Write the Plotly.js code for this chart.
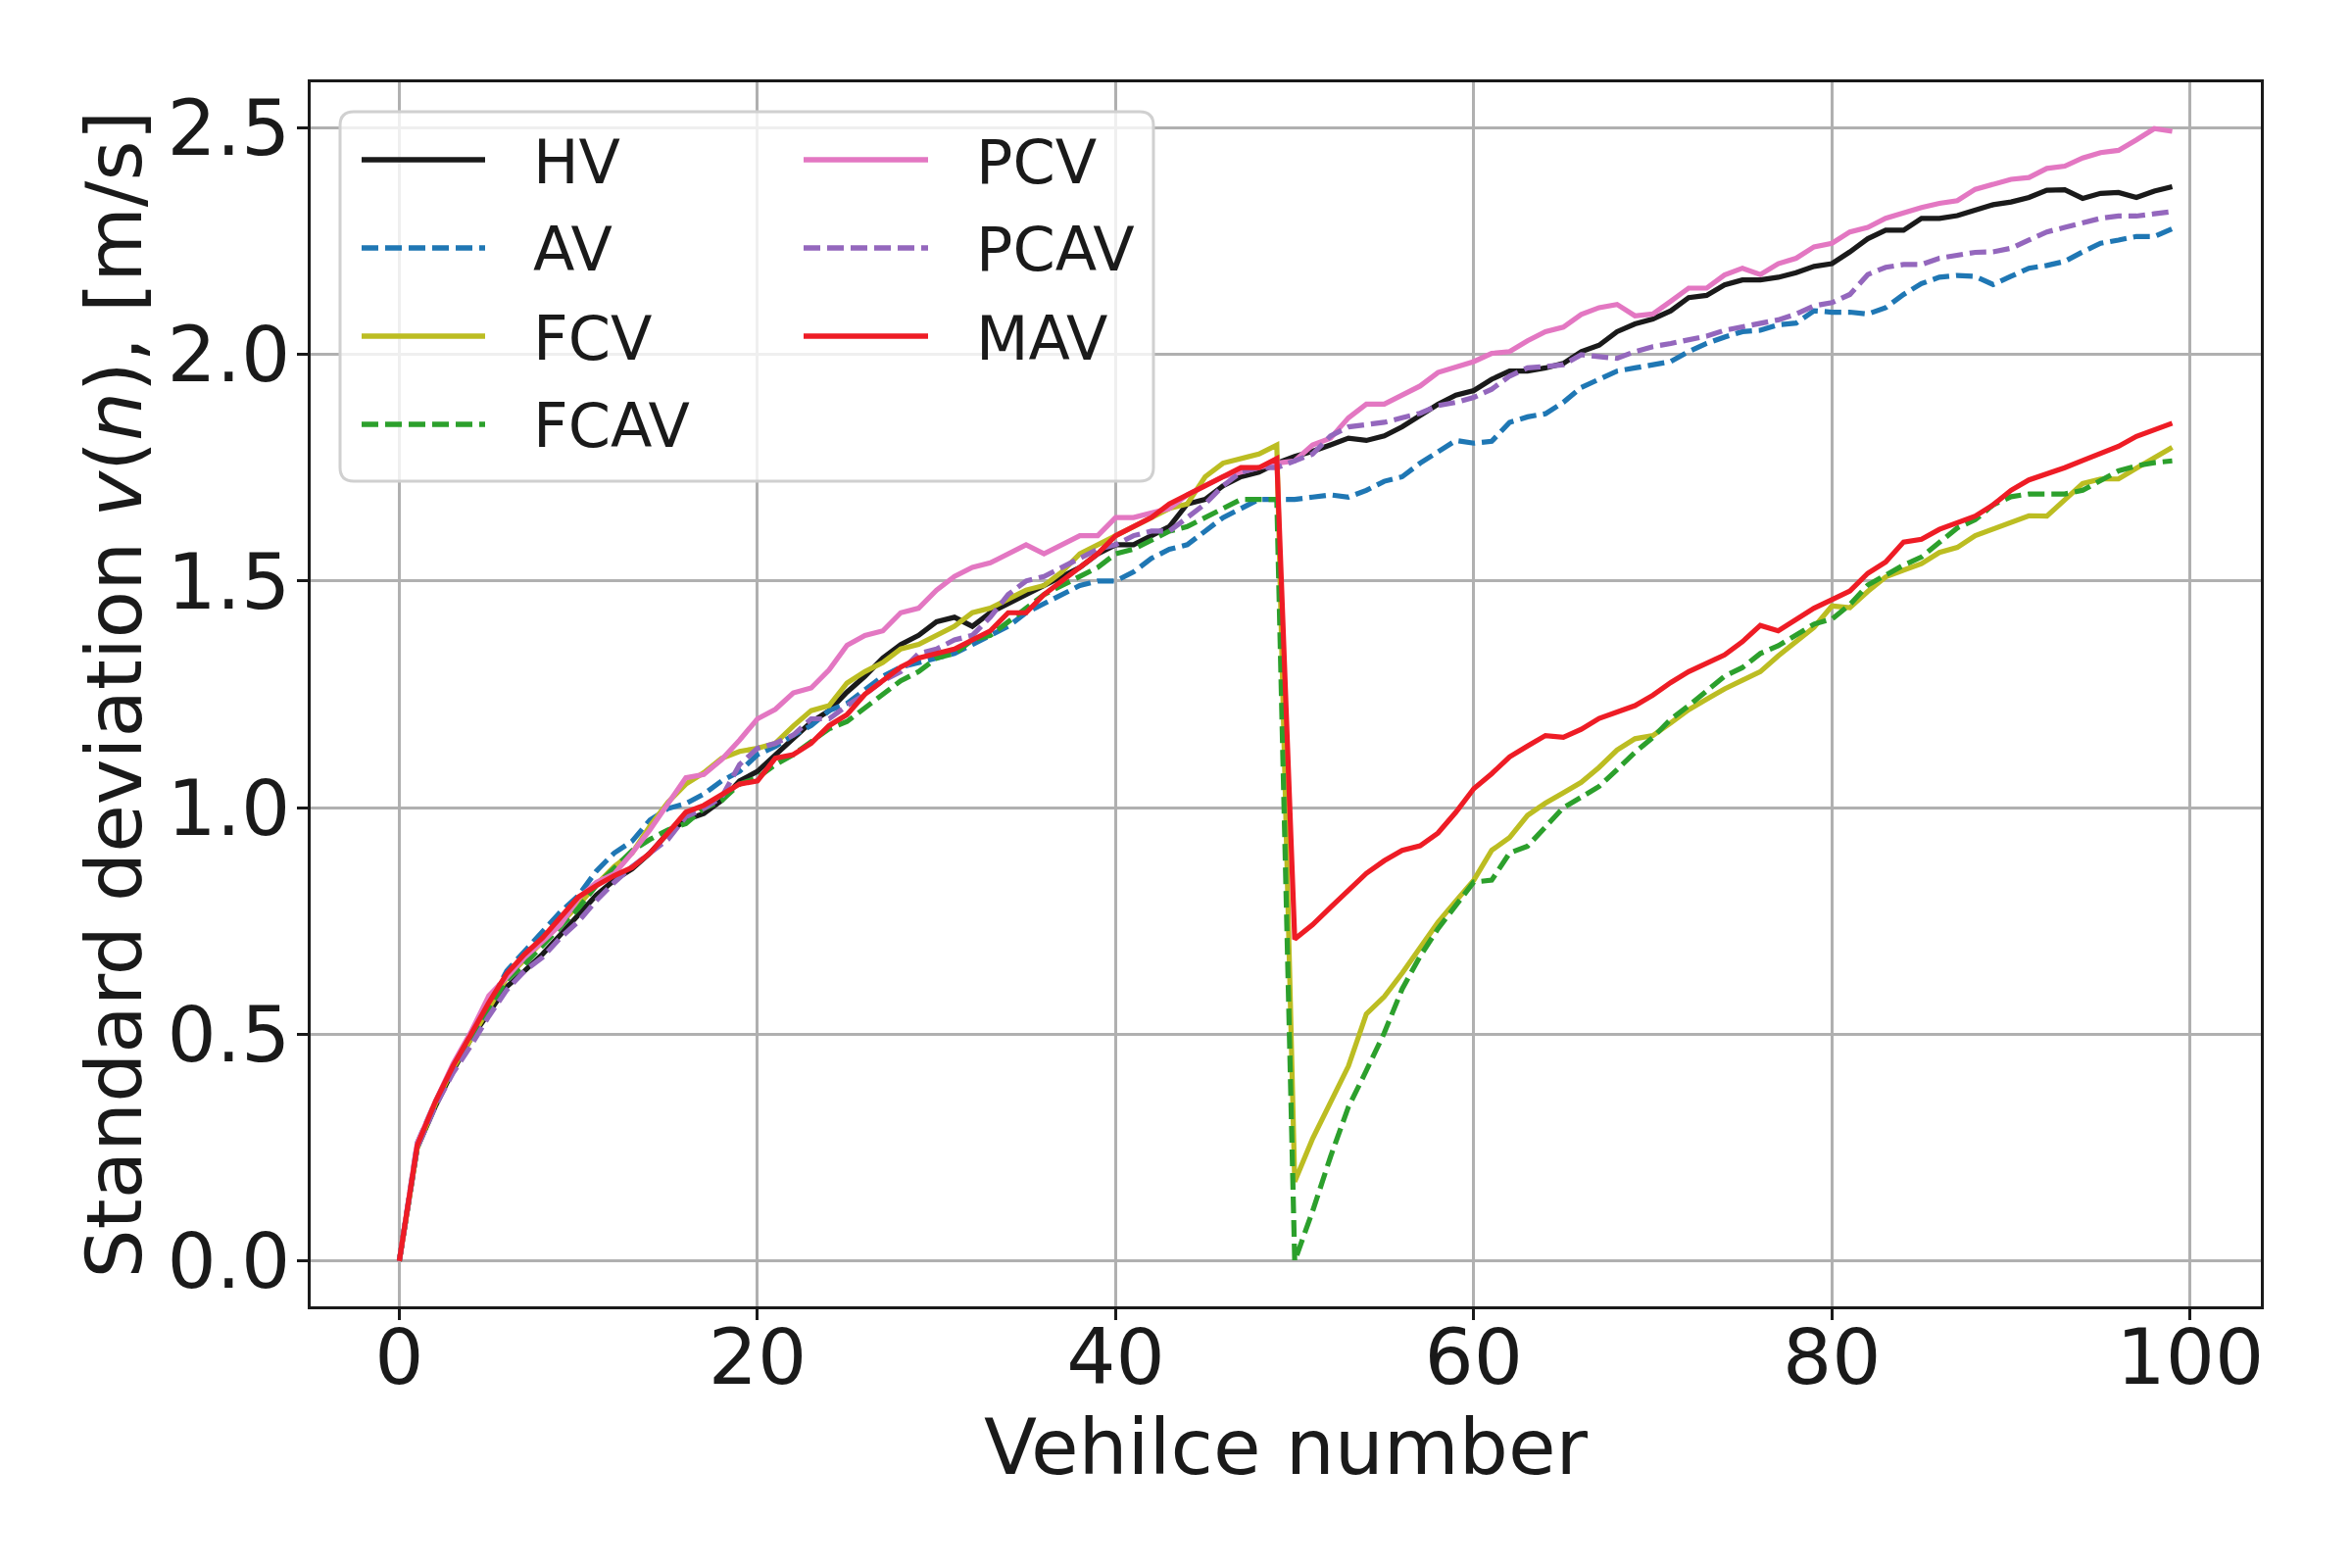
<!DOCTYPE html>
<html>
<head>
<meta charset="utf-8">
<script src="https://cdn.plot.ly/plotly-3.0.1.min.js"></script>
<style>
  html, body { margin: 0; padding: 0; background: #fff; }
  #chart { width: 2400px; height: 1600px; }
</style>
</head>
<body>
<div id="chart"></div>
<script>
// Standard deviation of speed along the platoon -------------------------------
const vehicle = [
  0, 1, 2, 3, 4, 5, 6, 7, 8, 9, 10, 11, 12, 13, 14, 15, 16, 17, 18, 19,
  20, 21, 22, 23, 24, 25, 26, 27, 28, 29, 30, 31, 32, 33, 34, 35, 36, 37, 38, 39,
  40, 41, 42, 43, 44, 45, 46, 47, 48, 49, 50, 51, 52, 53, 54, 55, 56, 57, 58, 59,
  60, 61, 62, 63, 64, 65, 66, 67, 68, 69, 70, 71, 72, 73, 74, 75, 76, 77, 78, 79,
  80, 81, 82, 83, 84, 85, 86, 87, 88, 89, 90, 91, 92, 93, 94, 95, 96, 97, 98, 99
];

const hv = [
  0, 0.25, 0.34, 0.42, 0.49, 0.55, 0.605, 0.64, 0.677, 0.72,
  0.763, 0.807, 0.84, 0.865, 0.90, 0.944, 0.973, 0.987, 1.016, 1.059,
  1.08, 1.117, 1.153, 1.189, 1.214, 1.255, 1.29, 1.33, 1.36, 1.38,
  1.41, 1.42, 1.40, 1.43, 1.45, 1.47, 1.49, 1.51, 1.53, 1.56,
  1.58, 1.58, 1.60, 1.62, 1.67, 1.68, 1.71, 1.73, 1.74, 1.76,
  1.775, 1.786, 1.80, 1.815, 1.81, 1.82, 1.84, 1.865, 1.89, 1.91,
  1.92, 1.945, 1.963, 1.963, 1.97, 1.98, 2.006, 2.02, 2.05, 2.067,
  2.078, 2.096, 2.125, 2.13, 2.153, 2.164, 2.164, 2.17, 2.18, 2.194,
  2.20, 2.226, 2.255, 2.274, 2.274, 2.30, 2.30, 2.306, 2.317, 2.33,
  2.336, 2.346, 2.362, 2.363, 2.344, 2.355, 2.357, 2.346, 2.36, 2.37
];
const av = [
  0, 0.26, 0.35, 0.43, 0.50, 0.565, 0.64, 0.684, 0.727, 0.77,
  0.806, 0.86, 0.90, 0.926, 0.973, 0.998, 1.009, 1.03, 1.059, 1.08,
  1.117, 1.135, 1.16, 1.181, 1.214, 1.23, 1.26, 1.29, 1.31, 1.32,
  1.33, 1.34, 1.36, 1.38, 1.40, 1.43, 1.45, 1.47, 1.49, 1.50,
  1.50, 1.52, 1.55, 1.57, 1.58, 1.61, 1.64, 1.66, 1.68, 1.68,
  1.68, 1.685, 1.69, 1.685, 1.70, 1.72, 1.73, 1.76, 1.786, 1.81,
  1.804, 1.808, 1.85, 1.862, 1.869, 1.894, 1.927, 1.945, 1.963, 1.97,
  1.977, 1.984, 2.006, 2.024, 2.038, 2.05, 2.053, 2.065, 2.069, 2.096,
  2.093, 2.093, 2.089, 2.103, 2.132, 2.156, 2.17, 2.174, 2.172, 2.154,
  2.172, 2.19, 2.196, 2.205, 2.226, 2.245, 2.252, 2.26, 2.26, 2.277
];
const fcv = [
  0, 0.25, 0.345, 0.425, 0.49, 0.56, 0.625, 0.665, 0.705, 0.745,
  0.785, 0.83, 0.87, 0.90, 0.96, 1.012, 1.052, 1.077, 1.109, 1.124,
  1.131, 1.142, 1.18, 1.214, 1.225, 1.275, 1.30, 1.32, 1.35, 1.36,
  1.38, 1.40, 1.43, 1.44, 1.46, 1.48, 1.49, 1.52, 1.56, 1.58,
  1.60, 1.62, 1.64, 1.66, 1.67, 1.73, 1.76, 1.77, 1.78, 1.80,
  0.175, 0.27, 0.35, 0.43, 0.545, 0.583, 0.635, 0.69, 0.747, 0.794,
  0.84, 0.906, 0.934, 0.983, 1.01, 1.033, 1.056, 1.089, 1.127, 1.152,
  1.159, 1.187, 1.216, 1.239, 1.262, 1.281, 1.30, 1.335, 1.365, 1.398,
  1.445, 1.441, 1.477, 1.509, 1.524, 1.538, 1.563, 1.574, 1.60, 1.614,
  1.628, 1.644, 1.643, 1.678, 1.715, 1.725, 1.725, 1.749, 1.772, 1.795
];
const fcav = [
  0, 0.25, 0.345, 0.425, 0.495, 0.56, 0.62, 0.655, 0.695, 0.735,
  0.778, 0.828, 0.868, 0.905, 0.93, 0.951, 0.965, 0.998, 1.016, 1.052,
  1.066, 1.095, 1.117, 1.145, 1.174, 1.19, 1.22, 1.25, 1.28, 1.30,
  1.33, 1.34, 1.37, 1.38, 1.41, 1.44, 1.47, 1.49, 1.51, 1.53,
  1.56, 1.57, 1.59, 1.61, 1.62, 1.64, 1.66, 1.68, 1.68, 1.68,
  0.0, 0.11, 0.23, 0.34, 0.42, 0.503, 0.60, 0.672, 0.733, 0.784,
  0.836, 0.84, 0.90, 0.915, 0.958, 1.0, 1.023, 1.047, 1.084, 1.122,
  1.155, 1.195, 1.225, 1.258, 1.29, 1.309, 1.34, 1.357, 1.38, 1.405,
  1.416, 1.448, 1.491, 1.514, 1.535, 1.553, 1.585, 1.617, 1.635, 1.668,
  1.686, 1.692, 1.692, 1.692, 1.70, 1.722, 1.743, 1.754, 1.761, 1.765
];
const pcv = [
  0, 0.26, 0.35, 0.435, 0.505, 0.585, 0.626, 0.67, 0.705, 0.742,
  0.80, 0.835, 0.854, 0.90, 0.951, 1.009, 1.066, 1.073, 1.106, 1.149,
  1.196, 1.217, 1.253, 1.264, 1.304, 1.358, 1.38, 1.39, 1.43, 1.44,
  1.48, 1.51, 1.53, 1.54, 1.56, 1.58, 1.56, 1.58, 1.60, 1.60,
  1.64, 1.64, 1.65, 1.66, 1.69, 1.71, 1.73, 1.74, 1.75, 1.76,
  1.765, 1.80, 1.815, 1.86, 1.89, 1.89, 1.91, 1.93, 1.96, 1.973,
  1.984, 2.002, 2.006, 2.03, 2.05, 2.06, 2.088, 2.103, 2.11, 2.085,
  2.089, 2.117, 2.146, 2.146, 2.175, 2.19, 2.176, 2.20, 2.212, 2.237,
  2.245, 2.27, 2.28, 2.30, 2.313, 2.324, 2.333, 2.339, 2.364, 2.375,
  2.386, 2.39, 2.41, 2.415, 2.433, 2.445, 2.45, 2.473, 2.498, 2.492
];
const pcav = [
  0, 0.25, 0.34, 0.415, 0.475, 0.54, 0.598, 0.64, 0.67, 0.713,
  0.749, 0.795, 0.835, 0.87, 0.90, 0.93, 0.98, 0.998, 1.023, 1.095,
  1.131, 1.142, 1.16, 1.196, 1.196, 1.225, 1.25, 1.28, 1.30, 1.34,
  1.35, 1.37, 1.38, 1.42, 1.47, 1.50, 1.51, 1.53, 1.55, 1.57,
  1.58, 1.60, 1.61, 1.61, 1.64, 1.67, 1.71, 1.74, 1.75, 1.75,
  1.765, 1.78, 1.82, 1.84, 1.845, 1.85, 1.86, 1.87, 1.887, 1.894,
  1.905, 1.923, 1.952, 1.97, 1.973, 1.977, 1.999, 1.995, 1.991, 2.006,
  2.017, 2.024, 2.031, 2.04, 2.053, 2.06, 2.067, 2.076, 2.089, 2.107,
  2.114, 2.132, 2.176, 2.192, 2.198, 2.198, 2.212, 2.219, 2.225, 2.226,
  2.234, 2.252, 2.27, 2.28, 2.29, 2.30, 2.305, 2.305, 2.31, 2.315
];
const mav = [
  0, 0.255, 0.35, 0.43, 0.50, 0.57, 0.634, 0.677, 0.713, 0.756,
  0.803, 0.828, 0.85, 0.868, 0.90, 0.944, 0.99, 1.005, 1.027, 1.052,
  1.059, 1.109, 1.117, 1.142, 1.181, 1.205, 1.25, 1.28, 1.31, 1.33,
  1.34, 1.35, 1.37, 1.39, 1.43, 1.43, 1.47, 1.50, 1.53, 1.56,
  1.60, 1.62, 1.64, 1.67, 1.69, 1.71, 1.73, 1.75, 1.75, 1.77,
  0.71, 0.742, 0.78, 0.817, 0.855, 0.883, 0.906, 0.916, 0.944, 0.99,
  1.042, 1.075, 1.112, 1.136, 1.159, 1.155, 1.173, 1.197, 1.211, 1.225,
  1.248, 1.276, 1.30, 1.319, 1.337, 1.366, 1.402, 1.39, 1.416, 1.44,
  1.459, 1.478, 1.517, 1.542, 1.586, 1.592, 1.614, 1.628, 1.643, 1.668,
  1.70, 1.723, 1.736, 1.75, 1.766, 1.783, 1.797, 1.819, 1.833, 1.848
];

const names  = ['HV', 'AV', 'FCV', 'FCAV', 'PCV', 'PCAV', 'MAV'];
const values = [hv, av, fcv, fcav, pcv, pcav, mav];
const colors = ['#1a1a1a', '#1f77b4', '#bcbd22', '#2ca02c', '#e377c2', '#9467bd', '#ee1c25'];
const dashed = [false, true, false, true, false, true, false];

const FONT = 'DejaVu Sans, Liberation Sans, sans-serif';
const TXT = '#1a1a1a';
const DASH = '17px,7px';

// plot area in pixels (the figure is 2400x1600)
const PL = 317, PR = 2307, PT = 84, PB = 1333;
const px = x => (x - PL) / (PR - PL);
const py = y => (PB - y) / (PB - PT);

const traces = names.map((n, i) => ({
    type: 'scatter', mode: 'lines', name: n,
    x: vehicle, y: values[i],
    line: { color: colors[i], width: 5.2, dash: dashed[i] ? DASH : 'solid' },
    showlegend: false, hoverinfo: 'skip',
}));

// hand-built legend: two columns, column-major like matplotlib ncol=2
const shapes = [];
const annotations = [];
const box = { x0: 347, x1: 1177, y0: 114, y1: 491, r: 14 };
const rounded = b => {
    const X = px, Y = py, r = b.r;
    return `M${X(b.x0 + r)},${Y(b.y0)} L${X(b.x1 - r)},${Y(b.y0)} Q${X(b.x1)},${Y(b.y0)} ${X(b.x1)},${Y(b.y0 + r)}` +
        ` L${X(b.x1)},${Y(b.y1 - r)} Q${X(b.x1)},${Y(b.y1)} ${X(b.x1 - r)},${Y(b.y1)}` +
        ` L${X(b.x0 + r)},${Y(b.y1)} Q${X(b.x0)},${Y(b.y1)} ${X(b.x0)},${Y(b.y1 - r)}` +
        ` L${X(b.x0)},${Y(b.y0 + r)} Q${X(b.x0)},${Y(b.y0)} ${X(b.x0 + r)},${Y(b.y0)} Z`;
};
shapes.push({
    type: 'path', xref: 'paper', yref: 'paper', layer: 'above',
    path: rounded(box),
    fillcolor: 'rgba(255,255,255,0.8)',
    line: { color: '#d0d0d0', width: 3 },
});
const colX = [{ l0: 369, l1: 495, t: 542 }, { l0: 820, l1: 947, t: 994 }];
const rowY = [163, 253, 343, 433];
names.forEach((n, i) => {
    const c = colX[i < 4 ? 0 : 1];
    const y = rowY[i < 4 ? i : i - 4];
    shapes.push({
        type: 'line', xref: 'paper', yref: 'paper', layer: 'above',
        x0: px(c.l0), x1: px(c.l1), y0: py(y), y1: py(y),
        line: { color: colors[i], width: 5.5, dash: dashed[i] ? DASH : 'solid' },
    });
    annotations.push({
        xref: 'paper', yref: 'paper', x: px(c.t), y: py(y + 2),
        xanchor: 'left', yanchor: 'middle', showarrow: false,
        text: n, font: { family: FONT, size: 62, color: TXT },
    });
});

const axisCommon = {
    showline: true, linecolor: '#1a1a1a', linewidth: 3, mirror: true,
    showgrid: true, gridcolor: '#b0b0b0', gridwidth: 3,
    zeroline: false,
    ticks: 'outside', ticklen: 11, tickwidth: 3, tickcolor: '#1a1a1a',
    tickfont: { family: FONT, size: 79, color: TXT },
    automargin: false,
};

const layout = {
    width: 2400, height: 1600,
    paper_bgcolor: '#fff', plot_bgcolor: '#fff',
    margin: { l: PL, r: 2400 - PR, t: PT, b: 1600 - PB },
    font: { family: FONT, color: TXT },
    showlegend: false,
    xaxis: {
        ...axisCommon,
        range: [-4.95, 103.95], tick0: 0, dtick: 20,
        ticklabelstandoff: -30,
        title: { text: 'Vehilce number', font: { family: FONT, size: 79, color: TXT }, standoff: 10 },
    },
    yaxis: {
        ...axisCommon,
        range: [-0.1, 2.6], tick0: 0, dtick: 0.5, tickformat: '.1f',
        ticklabelstandoff: -9,
        title: { text: 'Standard deviation <i>v</i>(<i>n</i>), [m/s]', font: { family: FONT, size: 79, color: TXT }, standoff: 0 },
    },
    shapes, annotations,
};

Plotly.newPlot('chart', traces, layout, { displayModeBar: false, staticPlot: true });
</script>
</body>
</html>
